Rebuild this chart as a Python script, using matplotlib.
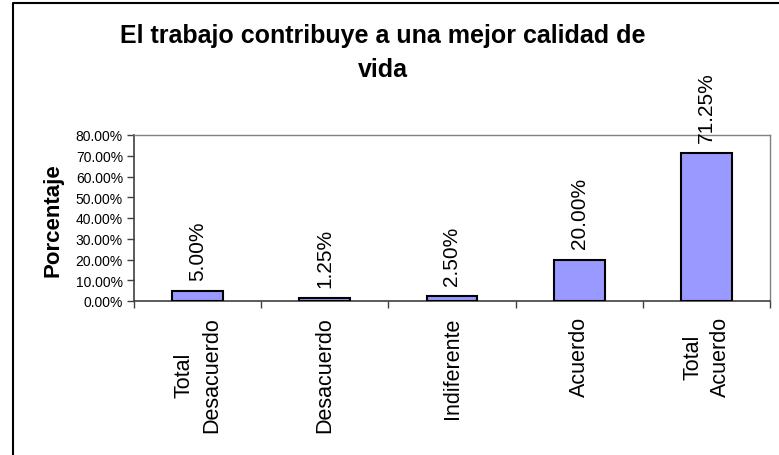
import matplotlib
matplotlib.use("Agg")
import matplotlib.pyplot as plt
from matplotlib.lines import Line2D
import numpy as np

categories = ["Total\nDesacuerdo", "Desacuerdo", "Indiferente", "Acuerdo", "Total\nAcuerdo"]
values = [5.00, 1.25, 2.50, 20.00, 71.25]
yticks = [0, 10, 20, 30, 40, 50, 60, 70, 80]
title = "El trabajo contribuye a una mejor calidad de\nvida"
ylabel = "Porcentaje"

plt.rcParams['font.family'] = ['Liberation Sans', 'DejaVu Sans']

W, H = 779, 456
fig = plt.figure(figsize=(W / 100, H / 100), dpi=100)

# outer chart border (cut at right/bottom)
fig.add_artist(Line2D([13 / W, 13 / W, 1.0], [0.0, 1 - 4 / H, 1 - 4 / H],
                      transform=fig.transFigure, color='black', lw=1.5))

ax = fig.add_axes([134 / W, 1 - 302 / H, (770 - 134) / W, (302 - 136) / H])
x = np.arange(len(categories))
ax.bar(x, values, width=0.4, color='#9999FF', edgecolor='black', linewidth=1.5, zorder=3)
ax.set_xlim(-0.5, len(categories) - 0.5)
ax.set_ylim(0, 80)
ax.set_yticks(yticks)
ax.set_yticklabels([f"{v:.2f}%" for v in yticks], fontsize=10)
ax.set_xticks(np.arange(len(categories) + 1) - 0.5)
ax.set_xticklabels([])
ax.tick_params(axis='both', direction='out', length=5, width=1, color='#404040')
ax.tick_params(axis='y', pad=3)

for s in ['top', 'right']:
    ax.spines[s].set_color('#808080')
    ax.spines[s].set_linewidth(1)
for s in ['left', 'bottom']:
    ax.spines[s].set_color('#404040')
    ax.spines[s].set_linewidth(1.2)

for xi, v in zip(x, values):
    ax.annotate(f"{v:.2f}%", xy=(xi, v), xytext=(0, 8), textcoords='offset points',
                rotation=90, ha='center', va='bottom', fontsize=15, annotation_clip=False)

for xi, c in zip(x, categories):
    ax.annotate(c, xy=(xi, 0), xytext=(0, -11), textcoords='offset points',
                rotation=90, ha='center', va='top', multialignment='center',
                fontsize=15.5, linespacing=1.4, annotation_clip=False)

fig.text(53 / W, 1 - 220 / H, ylabel, rotation=90, ha='center', va='center',
         fontsize=16, fontweight='bold')

fig.text(383 / W, 1 - 24 / H, title, ha='center', va='top', fontsize=18,
         fontweight='bold', linespacing=1.55)

fig.savefig("out.png", dpi=100)
